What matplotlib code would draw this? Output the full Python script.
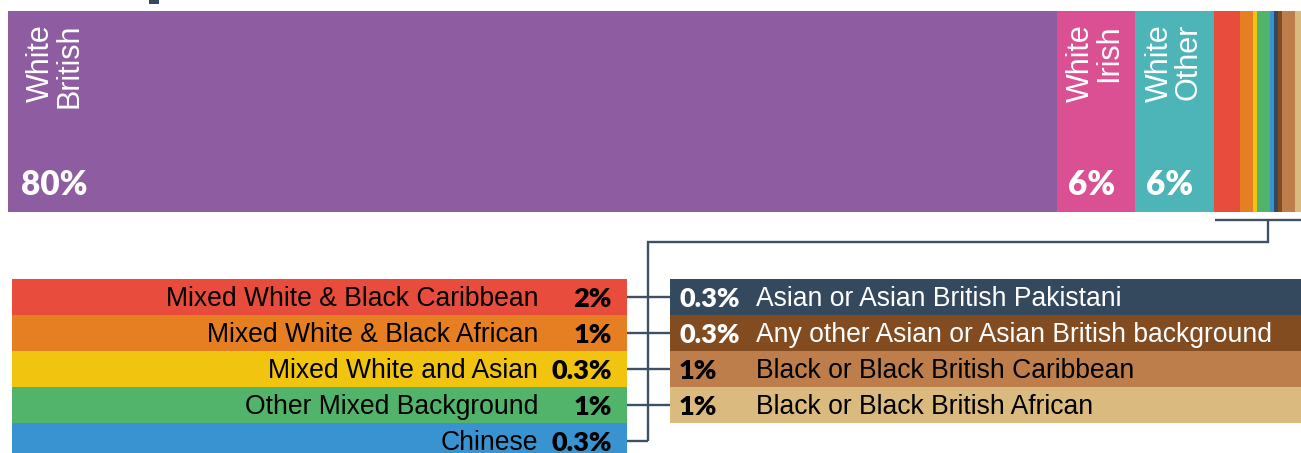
import matplotlib
matplotlib.use('Agg')
import numpy as np
import matplotlib.pyplot as plt
from matplotlib.transforms import blended_transform_factory
from matplotlib.patches import Rectangle

# ---------------- data ----------------
categories = ['White British', 'White Irish', 'White Other',
              'Mixed White & Black Caribbean', 'Mixed White & Black African',
              'Mixed White and Asian', 'Other Mixed Background', 'Chinese',
              'Asian or Asian British Pakistani',
              'Any other Asian or Asian British background',
              'Black or Black British Caribbean', 'Black or Black British African']
values = [80, 6, 6, 2, 1, 0.3, 1, 0.3, 0.3, 0.3, 1, 1]
pct_labels = ['80%', '6%', '6%', '2%', '1%', '0.3%', '1%', '0.3%',
              '0.3%', '0.3%', '1%', '1%']
top_labels = ['White\nBritish', 'White\nIrish', 'White\nOther']
colors = ['#8e5ca1', '#da5092', '#4db4b7', '#e74c3c', '#e67e22', '#f1c40f',
          '#52b46a', '#3a93d1', '#34495e', '#824c20', '#bd7e4c', '#dbba80']
left_idx = [3, 4, 5, 6, 7]
right_idx = [8, 9, 10, 11]
right_text_colors = ['white', 'white', 'black', 'black']

# ---------------- layout ----------------
W, H = 1301, 453
PX_PER_PCT = 13.11
LINE_C = '#3e5064'
LABEL_FONT = 'Liberation Sans'
PCT_FONT = 'Lato'

fig = plt.figure(figsize=(W / 100, H / 100), dpi=100)
fig.patch.set_facecolor('white')

ax_ov = fig.add_axes([0, 0, 1, 1])
ax_ov.set_xlim(0, W)
ax_ov.set_ylim(H, 0)
ax_ov.axis('off')

bar_l, bar_t, bar_b = 8, 11, 212
ax_bar = fig.add_axes([bar_l / W, (H - bar_b) / H, (W - bar_l) / W, (bar_b - bar_t) / H])
ax_bar.set_xlim(0, (W - bar_l) / PX_PER_PCT)
ax_bar.set_ylim(-0.5, 0.5)
ax_bar.axis('off')

lefts = np.concatenate([[0], np.cumsum(values)[:-1]])
ax_bar.barh(0, values, left=lefts, height=1.0, color=colors, linewidth=0)

trans = blended_transform_factory(ax_bar.transData, ax_ov.transData)

# title remnant at very top
ax_ov.add_patch(Rectangle((149, 0), 10, 4, color='#34495e', lw=0))

# labels on the three large segments
for i, lab in enumerate(top_labels):
    if i == 0:
        xy, dx, ha = (lefts[i], 24), 18, 'left'
    else:
        xy, dx, ha = (lefts[i] + values[i] / 2, 24), -1, 'center'
    ax_bar.annotate(lab, xy=xy, xycoords=trans, xytext=(dx, 0),
                    textcoords='offset pixels', rotation=90, ha=ha, va='top',
                    multialignment='right', color='white', fontsize=22,
                    family=LABEL_FONT, linespacing=0.95, annotation_clip=False)
    if i == 0:
        pxy, pdx, pha = (lefts[i], 195), 13, 'left'
    else:
        pxy, pdx, pha = (lefts[i] + values[i] / 2, 195), -5, 'center'
    ax_bar.annotate(pct_labels[i], xy=pxy, xycoords=trans, xytext=(pdx, 0),
                    textcoords='offset pixels', ha=pha, va='baseline',
                    color='white', fontsize=24, fontweight='heavy',
                    family=PCT_FONT, annotation_clip=False)

# legend boxes
row0, row_h = 297, 36
left_y = [row0 + row_h * k for k in range(len(left_idx))]
right_y = [row0 + row_h * k for k in range(len(right_idx))]

ax_ov.barh(left_y, 615, left=12, height=row_h,
           color=[colors[i] for i in left_idx], linewidth=0)
ax_ov.barh(right_y, 660, left=670, height=row_h,
           color=[colors[i] for i in right_idx], linewidth=0)

for y, i in zip(left_y, left_idx):
    ax_ov.text(538, y + 9, categories[i], ha='right', va='baseline',
               fontsize=19.1, family=LABEL_FONT, color='black')
    ax_ov.text(612, y + 10, pct_labels[i], ha='right', va='baseline',
               fontsize=19.5, fontweight='heavy', family=PCT_FONT, color='black')

for y, i, tc in zip(right_y, right_idx, right_text_colors):
    ax_ov.text(679, y + 10, pct_labels[i], ha='left', va='baseline',
               fontsize=19.5, fontweight='heavy', family=PCT_FONT, color=tc)
    ax_ov.text(756, y + 9, categories[i], ha='left', va='baseline',
               fontsize=19.1, family=LABEL_FONT, color=tc)

# connectors
lw = 1.7
ax_ov.plot([1215, W + 5], [220, 220], color=LINE_C, lw=lw, solid_capstyle='butt')
ax_ov.plot([1268, 1268, 648, 648], [220, 242, 242, left_y[-1]], color=LINE_C,
           lw=lw, solid_joinstyle='miter', solid_capstyle='butt')
for y in left_y:
    ax_ov.plot([627, 648], [y, y], color=LINE_C, lw=lw, solid_capstyle='butt')
for y in right_y:
    ax_ov.plot([648, 670], [y, y], color=LINE_C, lw=lw, solid_capstyle='butt')

fig.savefig('out.png', dpi=100, facecolor='white')
